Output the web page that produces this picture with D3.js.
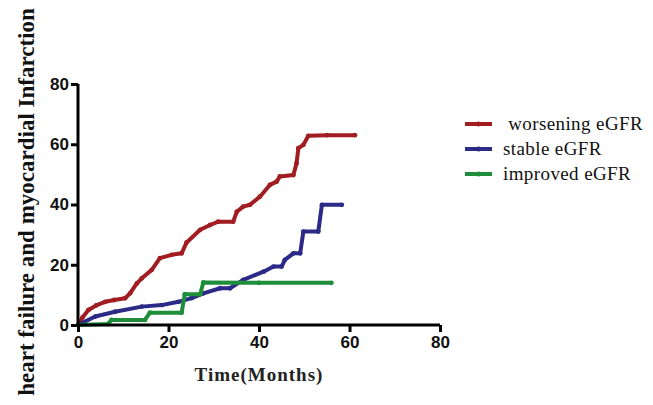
<!DOCTYPE html>
<html>
<head>
<meta charset="utf-8">
<script src="https://cdn.jsdelivr.net/npm/d3@7"></script>
<style>
body { margin: 0; background: #fff; }
svg { display: block; }
</style>
</head>
<body>
<script>
// data: months / cumulative events (%)
var xTicks = [0, 20, 40, 60, 80];
var yTicks = [0, 20, 40, 60, 80];

var worseMonths = [0, 1, 2.3, 4, 6, 8, 10.4, 11.5, 13, 14.1, 16.3, 18.1, 20.7, 22.9, 24, 27, 29.2, 31, 34.3, 35.1, 36.5, 38, 40.2, 42.4, 43.9, 44.6, 47.6, 48.3, 48.7, 49.8, 50.9, 55, 61.2];
var worseValues = [0, 2.5, 5, 6.5, 7.7, 8.3, 8.9, 10.5, 13.8, 15.5, 18.3, 22.2, 23.3, 23.8, 27.4, 31.6, 33.2, 34.3, 34.3, 37.6, 39.3, 39.9, 42.6, 46.5, 47.6, 49.3, 49.8, 53.7, 58.7, 59.8, 62.8, 63, 63];

var stableMonths = [0, 3.8, 8.2, 14.1, 18.5, 22.2, 25.1, 27.7, 31.4, 33.6, 36.5, 41, 43.2, 45, 45.7, 47.6, 49.1, 49.8, 53.1, 53.9, 58.3];
var stableValues = [0, 2.8, 4.4, 6.1, 6.6, 7.7, 8.9, 10.5, 12.2, 12.2, 15, 17.7, 19.4, 19.4, 21.6, 23.8, 23.8, 31, 31, 39.9, 39.9];

var improvedMonths = [0, 6.6, 7.4, 14.8, 15.9, 22.9, 23.6, 27, 27.7, 40, 56];
var improvedValues = [0, 0.3, 1.7, 1.7, 4.1, 4.1, 10.2, 10.2, 14.1, 14, 14];

var groups = [" worsening eGFR", "stable eGFR", "improved eGFR"];
var colors = ["#a11d22", "#2b2a86", "#1f8e3a"];

var series = [
    d3.zip(worseMonths, worseValues),
    d3.zip(stableMonths, stableValues),
    d3.zip(improvedMonths, improvedValues)
];

var w = 653, h = 405;
var svg = d3.select("body").append("svg")
    .attr("width", w)
    .attr("height", h);

var x = d3.scaleLinear().domain([0, 80]).range([78, 440]);
var y = d3.scaleLinear().domain([0, 80]).range([325, 84]);

var line = d3.line()
    .x(function(d) { return x(d[0]); })
    .y(function(d) { return y(d[1]); });

// curves
series.forEach(function(s, i) {
    svg.append("path")
        .datum(s)
        .attr("fill", "none")
        .attr("stroke", colors[i])
        .attr("stroke-width", 4)
        .attr("stroke-linejoin", "round")
        .attr("d", line);
    svg.selectAll(".m" + i)
        .data(s)
        .enter()
        .append("circle")
        .attr("class", "m" + i)
        .attr("cx", function(d) { return x(d[0]); })
        .attr("cy", function(d) { return y(d[1]); })
        .attr("r", 2.4)
        .attr("fill", colors[i]);
});

// axes
var xAxis = svg.append("g")
    .attr("transform", "translate(0," + y(0) + ")")
    .call(d3.axisBottom(x).tickValues(xTicks).tickSize(7).tickPadding(4));
var yAxis = svg.append("g")
    .attr("transform", "translate(" + x(0) + ",0)")
    .call(d3.axisLeft(y).tickValues(yTicks).tickSize(7).tickPadding(2));

[xAxis, yAxis].forEach(function(a) {
    a.select(".domain").attr("stroke", "#000").attr("stroke-width", 3);
    a.selectAll(".tick line").attr("stroke", "#000").attr("stroke-width", 3);
    a.selectAll(".tick text")
        .attr("fill", "#111")
        .style("font-family", "'Liberation Sans', Arial, sans-serif")
        .style("font-size", "17px")
        .style("font-weight", "bold");
});
// keep domain ends flush
xAxis.select(".domain").attr("d", "M" + x(0) + ",0H" + x(80));
yAxis.select(".domain").attr("d", "M0," + y(80) + "V" + y(0));

// axis titles
svg.append("text")
    .attr("x", 259)
    .attr("y", 381)
    .attr("text-anchor", "middle")
    .style("font-family", "'Liberation Serif', 'Times New Roman', serif")
    .style("font-size", "19px")
    .style("font-weight", "bold")
    .style("letter-spacing", "1px")
    .attr("fill", "#222")
    .text("Time(Months)");

svg.append("text")
    .attr("transform", "translate(34,202) rotate(-90)")
    .attr("text-anchor", "middle")
    .style("font-family", "'Liberation Serif', 'Times New Roman', serif")
    .style("font-size", "23px")
    .style("font-weight", "bold")
    .attr("fill", "#111")
    .text("heart failure and myocardial Infarction");

// legend
var legend = svg.selectAll(".leg")
    .data(groups)
    .enter()
    .append("g")
    .attr("class", "leg")
    .attr("transform", function(d, i) { return "translate(465," + (124 + i * 25) + ")"; });

legend.append("line")
    .attr("x1", 0).attr("x2", 27)
    .attr("y1", 0).attr("y2", 0)
    .attr("stroke", function(d, i) { return colors[i]; })
    .attr("stroke-width", 4);
legend.append("circle")
    .attr("cx", 13.5).attr("cy", 0).attr("r", 2.5)
    .attr("fill", function(d, i) { return colors[i]; });
legend.append("text")
    .attr("x", 38)
    .attr("y", 6)
    .style("font-family", "'Liberation Serif', 'Times New Roman', serif")
    .style("font-size", "19px")
    .style("letter-spacing", "0.4px")
    .style("white-space", "pre")
    .attr("fill", "#111")
    .text(function(d) { return d; });
</script>
</body>
</html>
